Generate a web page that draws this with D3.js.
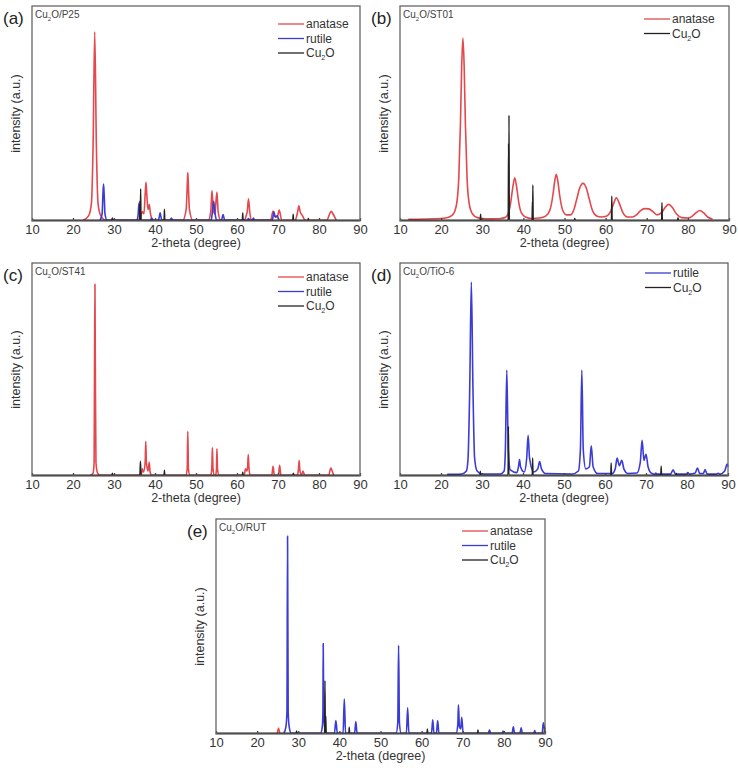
<!doctype html>
<meta charset='utf-8' />
<script src='https://cdn.jsdelivr.net/npm/d3@7/dist/d3.min.js'></script>
<style>
    body { margin: 0; background: #fff; }
    text { font-family: 'Liberation Sans', Arial, sans-serif; }
</style>
<svg></svg>
<script>
    var width = 738,
        height = 768

    var thetaTicks = [10, 20, 30, 40, 50, 60, 70, 80, 90]

    // (a) Cu2O/P25  -- [2theta, intensity %]
    var aAnatase = [
        [22.5, 0], [23.8, 2], [24.5, 8], [24.9, 35], [25.3, 88], [25.7, 35], [26.1, 8], [26.8, 2], [28, 0],
        [36.3, 0], [36.9, 4], [37.3, 3], [37.6, 12], [37.8, 17.7], [38.0, 12], [38.3, 5], [38.6, 7.3], [38.9, 3], [39.5, 0],
        [46.8, 0], [47.6, 5], [47.9, 18], [48.0, 22.3], [48.1, 18], [48.4, 5], [49.2, 0],
        [53.0, 0], [53.6, 4], [53.9, 13.8], [54.2, 5], [54.6, 3], [55.1, 13.2], [55.4, 4], [56.0, 0],
        [61.8, 0], [62.3, 2.5], [62.5, 4], [62.8, 10], [63.1, 4], [63.6, 0],
        [68.2, 0], [68.8, 4.3], [69.3, 1.5], [69.8, 1.5], [70.3, 4.7], [70.9, 0],
        [74.2, 0], [74.8, 4], [75.1, 6.7], [75.4, 4], [76.0, 2], [76.6, 0],
        [81.9, 0], [82.6, 3], [83.0, 4.2], [83.4, 3], [84.2, 0]
    ]
    var aRutile = [
        [26.6, 0], [27.1, 3], [27.3, 12], [27.45, 16.9], [27.6, 12], [27.8, 3], [28.3, 0],
        [35.6, 0], [35.9, 3], [36.1, 8], [36.3, 3], [36.6, 0],
        [38.9, 0], [39.2, 1], [39.5, 0],
        [40.8, 0], [41.1, 2], [41.25, 3.4], [41.4, 2], [41.7, 0],
        [43.7, 0], [44.0, 1], [44.3, 0],
        [53.7, 0], [54.0, 4], [54.3, 8.8], [54.6, 4], [55.0, 0],
        [56.2, 0], [56.6, 2.6], [57.0, 0],
        [62.5, 0], [62.8, 0.8], [63.1, 0], [63.7, 0], [64.0, 1], [64.3, 0],
        [68.6, 0], [69.0, 3.9], [69.3, 1.5], [69.8, 2], [70.2, 0]
    ]
    var aCu2O = [
        [10, 0], [29.4, 0], [29.6, 1], [29.8, 0],
        [36.2, 0], [36.3, 9], [36.4, 0], [36.5, 14.6], [36.6, 0],
        [42.2, 0], [42.3, 5.1], [42.4, 0],
        [61.3, 0], [61.4, 3.4], [61.5, 0],
        [73.6, 0], [73.7, 2.8], [73.8, 0],
        [77.3, 0], [77.4, 0.8], [77.5, 0], [90, 0]
    ]

    // (b) Cu2O/ST01
    var bAnatase = [
        [12, 0.4], [20, 0.8], [22, 1.5], [23, 3], [23.8, 8], [24.3, 20], [24.7, 45], [25.0, 72], [25.3, 85],
        [25.6, 72], [25.9, 45], [26.3, 20], [26.8, 8], [27.6, 3], [28.8, 1.2], [31, 0.6], [34, 0.7],
        [35.5, 1.2], [36.3, 3], [36.9, 8], [37.4, 15], [37.9, 19.8], [38.4, 15], [38.9, 8], [39.5, 3.5],
        [40.5, 1.5], [42, 0.8], [44, 1], [45.5, 2], [46.5, 5], [47.2, 12], [47.6, 18], [48.0, 21.4],
        [48.4, 18], [48.8, 12], [49.5, 5], [50.5, 2.5], [51.5, 2.5], [52.3, 5], [53, 10], [53.7, 15],
        [54.5, 17.2], [55.3, 15], [56, 10], [56.8, 4.5], [57.8, 2], [59, 1.5], [60.3, 2], [61.2, 4],
        [62, 8], [62.6, 10.5], [63.3, 8], [64.2, 3.5], [65.3, 1.5], [66.5, 1.5], [67.5, 2.5], [68.5, 4.5],
        [69.5, 5.4], [70.5, 5.3], [71.5, 4], [72.5, 2.5], [73.6, 3.5], [74.5, 6], [75.3, 7.4], [76.2, 6],
        [77.2, 3], [78.5, 1.2], [80, 1], [81, 1.8], [82, 3.5], [82.9, 4.5], [83.8, 3.5], [84.8, 1.5], [86, 0.6]
    ]
    var bCu2O = [
        [10, 0], [29.5, 0], [29.6, 2.8], [29.7, 0],
        [36.3, 0], [36.4, 36], [36.45, 0], [36.5, 49], [36.6, 0],
        [42.1, 0], [42.2, 8.7], [42.25, 0], [42.3, 16.4], [42.4, 0],
        [52.4, 0], [52.5, 0.8], [52.6, 0],
        [61.4, 0], [61.5, 11.2], [61.6, 0],
        [73.6, 0], [73.7, 8.2], [73.8, 0],
        [77.5, 0], [77.6, 1.2], [77.7, 0], [90, 0]
    ]

    // (c) Cu2O/ST41
    var cAnatase = [
        [24.3, 0], [24.9, 1], [25.15, 6], [25.25, 50], [25.35, 90], [25.45, 50], [25.6, 6], [26.0, 1], [26.6, 0],
        [36.6, 0], [36.9, 3], [37.2, 1.5], [37.6, 6], [37.75, 16], [37.9, 6], [38.3, 2], [38.6, 6.1], [38.8, 1.5], [39.2, 0],
        [47.5, 0], [47.85, 3], [48.0, 20.7], [48.15, 3], [48.5, 0],
        [53.6, 0], [53.85, 3], [54.0, 13], [54.15, 3], [54.5, 0], [54.8, 0], [55.0, 3], [55.1, 12.5], [55.25, 3], [55.6, 0],
        [61.7, 0], [62.1, 3], [62.4, 2], [62.6, 4], [62.75, 9.7], [62.9, 4], [63.2, 0],
        [68.5, 0], [68.8, 4.2], [69.1, 0], [70.1, 0], [70.4, 4.7], [70.7, 0],
        [74.7, 0], [75.0, 3], [75.15, 6.9], [75.3, 3], [75.7, 0], [76.1, 1.9], [76.5, 0],
        [82.4, 0], [82.7, 2.5], [82.9, 3.4], [83.2, 2], [83.6, 0]
    ]
    var cRutile = []
    var cCu2O = [
        [10, 0], [29.5, 0], [29.6, 1], [29.7, 0],
        [36.3, 0], [36.45, 6.6], [36.6, 0],
        [42.2, 0], [42.3, 2.3], [42.4, 0],
        [61.3, 0], [61.4, 1.4], [61.5, 0],
        [73.6, 0], [73.75, 1], [73.9, 0], [90, 0]
    ]

    // (d) Cu2O/TiO-6
    var dRutile = [
        [21.5, 0.4], [25, 0.6], [26.2, 2], [26.6, 8], [27.0, 40], [27.4, 91], [27.8, 40], [28.2, 8], [28.8, 2], [30, 0.6],
        [34.5, 0.6], [35.4, 2], [35.7, 12], [36.05, 49.6], [36.4, 12], [36.9, 2.5], [38.5, 1.2],
        [38.9, 4], [39.15, 7.4], [39.4, 4], [40.3, 1.5],
        [40.9, 8], [41.25, 18.8], [41.6, 8], [42.6, 1.5], [43.6, 3], [44.05, 6.4], [44.5, 3], [45.5, 0.8],
        [52, 0.6], [53.5, 2], [54.0, 12], [54.35, 49.6], [54.7, 12], [55.3, 3], [56.2, 4], [56.65, 13.9], [57.1, 4], [58.2, 0.8],
        [61.8, 0.8], [62.5, 3], [62.95, 8.1], [63.5, 4.5], [64.1, 7], [64.6, 3], [65.6, 0.8],
        [67.8, 1], [68.6, 6], [69.05, 16.4], [69.5, 7], [70.0, 9.9], [70.5, 4], [71.3, 1],
        [72.2, 0.5], [72.4, 1], [72.6, 0.5], [76, 0.5], [76.6, 2.5], [77.2, 0.5], [79.8, 0.5], [80.2, 1.2], [80.6, 0.5],
        [82.0, 1], [82.55, 3.4], [83.1, 0.8], [84.0, 0.8], [84.4, 2.7], [84.9, 0.5], [87.2, 0.5], [87.6, 0.9], [88, 0.5],
        [89.2, 2], [89.8, 5.3], [90, 4]
    ]
    var dCu2O = [
        [10, 0], [29.5, 0], [29.6, 1.9], [29.7, 0],
        [36.35, 0], [36.45, 23], [36.55, 0],
        [42.25, 0], [42.35, 8.1], [42.45, 0],
        [61.4, 0], [61.5, 5.8], [61.6, 0],
        [73.6, 0], [73.7, 4.2], [73.8, 0],
        [77.3, 0], [77.4, 0.8], [77.5, 0], [90, 0]
    ]

    // (e) Cu2O/RUT
    var eAnatase = [[24.9, 0], [25.2, 2.3], [25.5, 0]]
    var eRutile = [
        [26.5, 0], [27.0, 3], [27.25, 10], [27.4, 92], [27.55, 10], [27.8, 3], [28.3, 0],
        [35.4, 0], [35.85, 3], [36.0, 10], [36.07, 41.9], [36.2, 10], [36.5, 2], [36.9, 0],
        [38.8, 0], [39.15, 5.9], [39.5, 0],
        [40.9, 0], [41.2, 16], [41.5, 0],
        [43.7, 0], [44.0, 5.4], [44.3, 0],
        [53.8, 0], [54.2, 5], [54.4, 41], [54.6, 5], [55, 0],
        [56.3, 0], [56.6, 11.8], [56.9, 0],
        [62.4, 0], [62.7, 6.2], [63.0, 0], [63.6, 0], [63.9, 5.9], [64.2, 0],
        [68.4, 0], [68.8, 4], [68.95, 13.3], [69.2, 3], [69.5, 2], [69.75, 7.4], [70.1, 0],
        [76.2, 0], [76.5, 1.5], [76.8, 0], [79.6, 0], [79.8, 1], [80, 0], [82.0, 0], [82.3, 3], [82.6, 0],
        [83.9, 0], [84.2, 2.5], [84.5, 0], [87.3, 0], [87.5, 1.2], [87.7, 0], [89.3, 0], [89.6, 4.8], [89.9, 2]
    ]
    var eCu2O = [
        [10, 0], [29.5, 0], [29.6, 1], [29.7, 0],
        [36.4, 0], [36.5, 24.5], [36.6, 0], [36.7, 8], [36.8, 0],
        [42.3, 0], [42.4, 2.8], [42.5, 0],
        [61.3, 0], [61.4, 2], [61.5, 0],
        [73.6, 0], [73.7, 1.5], [73.8, 0],
        [89.8, 0], [89.9, 3], [90, 0]
    ]

    var color = { anatase: '#e4474c', rutile: '#3b3bd6', Cu2O: '#222' }

    var panels = [
        { tag: '(a)', sample: 'P25', x0: 32, x1: 360, y0: 6, y1: 221, legX: 82, legY: 18,
          legend: ['anatase', 'rutile', 'Cu2O'],
          series: [['anatase', aAnatase], ['rutile', aRutile], ['Cu2O', aCu2O]] },
        { tag: '(b)', sample: 'ST01', x0: 400, x1: 729, y0: 6, y1: 221, legX: 85, legY: 13,
          legend: ['anatase', 'Cu2O'],
          series: [['anatase', bAnatase], ['Cu2O', bCu2O]] },
        { tag: '(c)', sample: 'ST41', x0: 32, x1: 360, y0: 263, y1: 476, legX: 82, legY: 14,
          legend: ['anatase', 'rutile', 'Cu2O'],
          series: [['anatase', cAnatase], ['rutile', cRutile], ['Cu2O', cCu2O]] },
        { tag: '(d)', sample: 'TiO-6', x0: 400, x1: 728, y0: 263, y1: 476, legX: 83, legY: 10,
          legend: ['rutile', 'Cu2O'],
          series: [['rutile', dRutile], ['Cu2O', dCu2O]] },
        { tag: '(e)', sample: 'RUT', x0: 216, x1: 545, y0: 519, y1: 734, legX: 83, legY: 12,
          legend: ['anatase', 'rutile', 'Cu2O'],
          series: [['anatase', eAnatase], ['rutile', eRutile], ['Cu2O', eCu2O]] }
    ]

    var svg = d3.select('svg')
        .attr('width', width)
        .attr('height', height)

    function cu2o(sel, base) {
        sel.append('tspan').text('Cu')
        sel.append('tspan').text('2').attr('font-size', base * 0.6).attr('dy', base * 0.25)
        sel.append('tspan').text('O').attr('dy', -base * 0.25)
    }

    panels.forEach(p => {
        var x = d3.scaleLinear().domain([10, 90]).range([p.x0, p.x1])
        var y = d3.scaleLinear().domain([0, 100]).range([p.y1 - 0.8, p.y0])
        var g = svg.append('g')

        var line = d3.line()
            .x(d => x(d[0]))
            .y(d => y(d[1]))
            .curve(d3.curveMonotoneX)

        g.selectAll('path.trace')
            .data(p.series)
            .enter()
            .append('path')
            .attr('class', 'trace')
            .attr('d', d => line(d[1]))
            .style('fill', 'none')
            .style('stroke', d => color[d[0]])
            .style('stroke-width', d => d[0] == 'Cu2O' ? 1.4 : 1.6)
            .style('stroke-linejoin', 'round')

        var axis = g.append('g')
            .attr('transform', 'translate(0,' + p.y1 + ')')
            .call(d3.axisBottom(x).tickValues(thetaTicks).tickSizeInner(-3).tickSizeOuter(0).tickPadding(4))
        axis.select('.domain').remove()
        axis.selectAll('line').style('stroke', '#444').style('stroke-width', 1.3)
        axis.selectAll('text')
            .attr('font-size', 13)
            .attr('font-family', "'Liberation Sans', Arial, sans-serif")
            .style('fill', '#333')

        g.append('rect')
            .attr('x', p.x0)
            .attr('y', p.y0)
            .attr('width', p.x1 - p.x0)
            .attr('height', p.y1 - p.y0)
            .style('fill', 'none')
            .style('stroke', '#666')
            .style('stroke-width', 1.3)

        g.append('text')
            .attr('x', (p.x0 + p.x1) / 2)
            .attr('y', p.y1 + 26)
            .attr('text-anchor', 'middle')
            .attr('font-size', 12.5)
            .style('fill', '#333')
            .text('2-theta (degree)')

        g.append('text')
            .attr('transform', 'translate(' + (p.x0 - 12) + ',' + ((p.y0 + p.y1) / 2) + ') rotate(-90)')
            .attr('text-anchor', 'middle')
            .attr('font-size', 12.5)
            .style('fill', '#333')
            .text('intensity (a.u.)')

        g.append('text')
            .attr('x', p.x0 - 29)
            .attr('y', p.y0 + 18)
            .attr('font-size', 17)
            .style('fill', '#222')
            .text(p.tag)

        var s = g.append('text')
            .attr('x', p.x0 + 3)
            .attr('y', p.y0 + 12)
            .attr('font-size', 10)
            .style('fill', '#444')
        cu2o(s, 10)
        s.append('tspan').text('/' + p.sample)

        var leg = g.selectAll('g.leg')
            .data(p.legend)
            .enter()
            .append('g')
            .attr('class', 'leg')
            .attr('transform', (d, i) => 'translate(' + (p.x1 - p.legX) + ',' + (p.y0 + p.legY + i * 14.5) + ')')
        leg.append('line')
            .attr('x1', 0)
            .attr('x2', 26)
            .style('stroke', d => color[d])
            .style('stroke-width', 1.3)
        leg.each(function (d) {
            var t = d3.select(this).append('text')
                .attr('x', 28)
                .attr('y', 4)
                .attr('font-size', 12)
                .style('fill', '#333')
            if (d == 'Cu2O') cu2o(t, 12)
            else t.text(d)
        })
    })
</script>
